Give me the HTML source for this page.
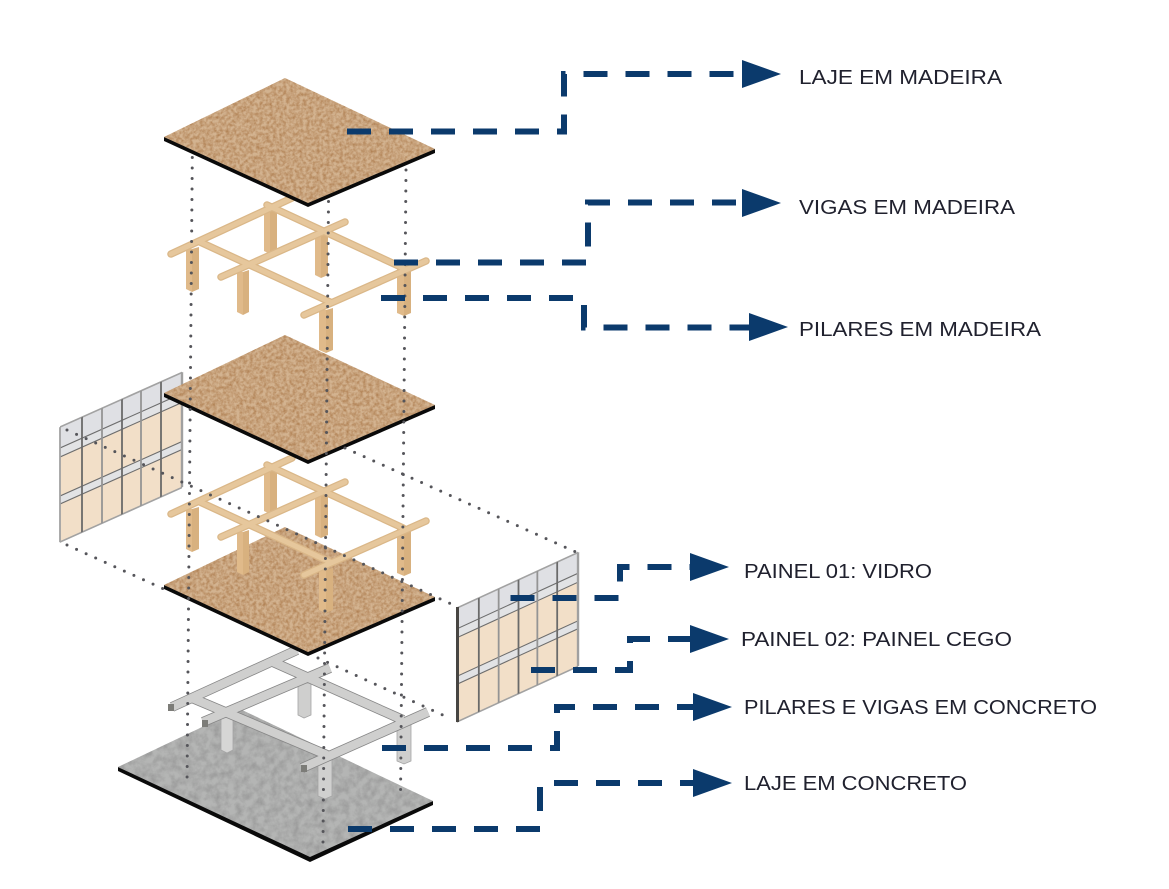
<!DOCTYPE html>
<html lang="pt">
<head>
<meta charset="utf-8">
<title>Diagrama</title>
<style>
html,body{margin:0;padding:0;background:#fff;width:1169px;height:889px;overflow:hidden}
svg{display:block}
text{font-family:"Liberation Sans",sans-serif;font-size:20px;fill:#20212e}
</style>
</head>
<body>
<svg width="1169" height="889" viewBox="0 0 1169 889" xmlns="http://www.w3.org/2000/svg">
<defs>
<filter id="osb" x="0" y="0" width="1" height="1" color-interpolation-filters="sRGB">
  <feTurbulence type="fractalNoise" baseFrequency="0.3" numOctaves="3" seed="4"/>
  <feColorMatrix type="matrix" values="0 0 0 0 .68  0 0 0 0 .49  0 0 0 0 .31  1.7 0 0 0 -.55"/>
  <feComposite in2="SourceGraphic" operator="in" result="n"/>
  <feMerge><feMergeNode in="SourceGraphic"/><feMergeNode in="n"/></feMerge>
</filter>
<filter id="conc" x="0" y="0" width="1" height="1" color-interpolation-filters="sRGB">
  <feTurbulence type="fractalNoise" baseFrequency="0.14" numOctaves="4" seed="9"/>
  <feColorMatrix type="matrix" values="0 0 0 0 .58  0 0 0 0 .58  0 0 0 0 .58  1.5 0 0 0 -.5"/>
  <feComposite in2="SourceGraphic" operator="in" result="n"/>
  <feMerge><feMergeNode in="SourceGraphic"/><feMergeNode in="n"/></feMerge>
</filter>

<g id="panel">
  <rect x="0" y="0" width="122" height="21" fill="#dfe0e4"/>
  <rect x="0" y="30" width="122" height="39" fill="#f2dfc8"/>
  <rect x="0" y="77" width="122" height="38" fill="#f2dfc8"/>
  <rect x="0" y="21" width="122" height="9" fill="#e2e3e5"/>
  <rect x="0" y="69" width="122" height="8" fill="#e2e3e5"/>
  <g fill="none" stroke="#6d6d6d" stroke-width="1.2">
    <path d="M0 21H122M0 30H122M0 69H122M0 77H122"/>
    <path d="M0 0H122M0 115H122" stroke="#a2a2a2" stroke-width="1.8"/>
    <path d="M22 0V115M62 0V115M101 0V115" stroke="#6a6a6a" stroke-width="1.8"/>
    <path d="M42 0V115M81 0V115" stroke="#949494" stroke-width="1.8"/>
    <path d="M122 0V115" stroke="#a0a0a0" stroke-width="2.4"/>
    <path d="M0 0V115" stroke="#a2a2a2" stroke-width="1.8"/>
  </g>
</g>

<g id="woodframe">
  <g fill="#e0ba8a">
    <polygon points="186,247 192,249 192,292 186,289"/>
    <polygon points="264,207 270,209 270,254 264,251"/>
    <polygon points="315,227 321,229 321,278 315,275"/>
    <polygon points="237,270 243,272 243,315 237,312"/>
    <polygon points="319,308 326,310 326,353 319,350"/>
    <polygon points="397,268 404,270 404,316 397,313"/>
  </g>
  <g fill="#d8b17f">
    <polygon points="192,249 199,247 199,289 192,292"/>
    <polygon points="270,209 277,207 277,251 270,254"/>
    <polygon points="321,229 328,227 328,275 321,278"/>
    <polygon points="243,272 249,270 249,312 243,315"/>
    <polygon points="326,310 333,308 333,350 326,353"/>
    <polygon points="404,270 411,268 411,313 404,316"/>
  </g>
  <g stroke="#dab788" stroke-width="7.5" fill="none" stroke-linecap="round">
    <path d="M267 205L403 268"/>
    <path d="M200 242L330 302"/>
    <path d="M171 254L292 198"/>
    <path d="M221 277L345 222"/>
    <path d="M304 315L426 261"/>
  </g>
  <g stroke="#e6c79c" stroke-width="5" fill="none" stroke-linecap="round">
    <path d="M267 205L403 268"/>
    <path d="M200 242L330 302"/>
    <path d="M171 254L292 198"/>
    <path d="M221 277L345 222"/>
    <path d="M304 315L426 261"/>
  </g>
</g>
</defs>

<!-- concrete slab -->
<polygon points="118,767 118,771 310,862 433,805 433,801 310,850" fill="#0a0a0a"/>
<polygon points="240,709 433,801 310,857 118,767" fill="#b4b5b4" filter="url(#conc)"/>

<!-- concrete frame -->
<g>
  <polygon points="298,683 311,683 311,715 304,718 298,715" fill="#cfcfce" stroke="#a5a5a5" stroke-width=".8"/>
  <polygon points="221,715 233,715 233,750 227,753 221,750" fill="#d6d6d5" stroke="#a5a5a5" stroke-width=".8"/>
  <polygon points="318,755 332,755 332,796 325,799 318,796" fill="#d0d0cf" stroke="#a5a5a5" stroke-width=".8"/>
  <polygon points="397,722 411,722 411,761 404,764 397,761" fill="#cfcfce" stroke="#a5a5a5" stroke-width=".8"/>
  <g stroke="#868686" stroke-width="10" fill="none">
    <path d="M273 662L403 720"/><path d="M192 698L327 755"/>
    <path d="M172 707L297 650"/><path d="M203 722L330 668"/><path d="M302 768L428 712"/>
  </g>
  <g stroke="#cfcfce" stroke-width="8.4" fill="none">
    <path d="M273 662L403 720"/><path d="M192 698L327 755"/>
    <path d="M172 707L297 650"/><path d="M203 722L330 668"/><path d="M302 768L428 712"/>
  </g>
  <g fill="#7c7c78">
    <rect x="168" y="704" width="6" height="7"/>
    <rect x="202" y="720" width="6" height="7"/>
    <rect x="301" y="765" width="6" height="7"/>
  </g>
</g>

<!-- left panel -->
<use href="#panel" transform="matrix(1,-0.447,0,1,60,427)"/>

<!-- slab 3 -->
<polygon points="164,585 164,589 308,656 435,601 435,597 308,646" fill="#0a0a0a"/>
<polygon points="285,527 435,597 308,652 164,585" fill="#d3b390" filter="url(#osb)"/>
<!-- wood frame 2 -->
<use href="#woodframe" transform="translate(0,260)"/>

<!-- slab 2 -->
<polygon points="164,393 164,397 308,464 435,409 435,405 308,454" fill="#0a0a0a"/>
<polygon points="285,335 435,405 308,460 164,393" fill="#d3b390" filter="url(#osb)"/>
<!-- wood frame 1 -->
<use href="#woodframe"/>

<!-- slab 1 -->
<polygon points="164,137 164,141 308,207 435,153 435,149 308,198" fill="#0a0a0a"/>
<polygon points="285,78 435,149 308,203 164,137" fill="#d3b390" filter="url(#osb)"/>

<!-- right panel -->
<use href="#panel" transform="matrix(0.992,-0.455,0,0.99,457,608)"/>
<line x1="457.5" y1="607" x2="457.5" y2="722" stroke="#474542" stroke-width="3"/>

<!-- dotted lines -->
<g fill="none" stroke="#55555a" stroke-width="3" stroke-linecap="round" stroke-dasharray="0 10.5">
  <path d="M192.300 157.500L187 786"/>
  <path d="M328.500 201.500L323 842"/>
  <path d="M406 170L400.500 799"/>
  <path d="M67 430L458 607"/>
  <path d="M345 448L578 553"/>
  <path d="M67 545L166 590"/>
  <path d="M318 658L447 717"/>
</g>

<!-- connectors -->
<g fill="none" stroke="#0b3a6c" stroke-width="6" stroke-dasharray="24 18">
  <path d="M347 131.500H564V74H745"/>
  <path d="M394 262.500H588V202.500H745"/>
  <path d="M381 298H584V327.500H752"/>
  <path d="M510.500 598H620V567H693"/>
  <path d="M531 670H630V639H693"/>
  <path d="M382 748H557V707H696"/>
  <path d="M348 829H540V783H696"/>
</g>
<g fill="#0b3a6c">
  <polygon points="742,60 781,74 742,88"/>
  <polygon points="742,189 781,203 742,217"/>
  <polygon points="749,313 788,327 749,341"/>
  <polygon points="690,553 729,567 690,581"/>
  <polygon points="690,625 729,639 690,653"/>
  <polygon points="693,693 732,707 693,721"/>
  <polygon points="693,769 732,783 693,797"/>
</g>

<!-- labels -->
<text x="799" y="84" textLength="203" lengthAdjust="spacingAndGlyphs">LAJE EM MADEIRA</text>
<text x="799" y="214" textLength="216" lengthAdjust="spacingAndGlyphs">VIGAS EM MADEIRA</text>
<text x="799" y="336" textLength="242" lengthAdjust="spacingAndGlyphs">PILARES EM MADEIRA</text>
<text x="744" y="578" textLength="188" lengthAdjust="spacingAndGlyphs">PAINEL 01: VIDRO</text>
<text x="741" y="646" textLength="271" lengthAdjust="spacingAndGlyphs">PAINEL 02: PAINEL CEGO</text>
<text x="744" y="714" textLength="353" lengthAdjust="spacingAndGlyphs">PILARES E VIGAS EM CONCRETO</text>
<text x="744" y="790" textLength="223" lengthAdjust="spacingAndGlyphs">LAJE EM CONCRETO</text>
</svg>
</body>
</html>
